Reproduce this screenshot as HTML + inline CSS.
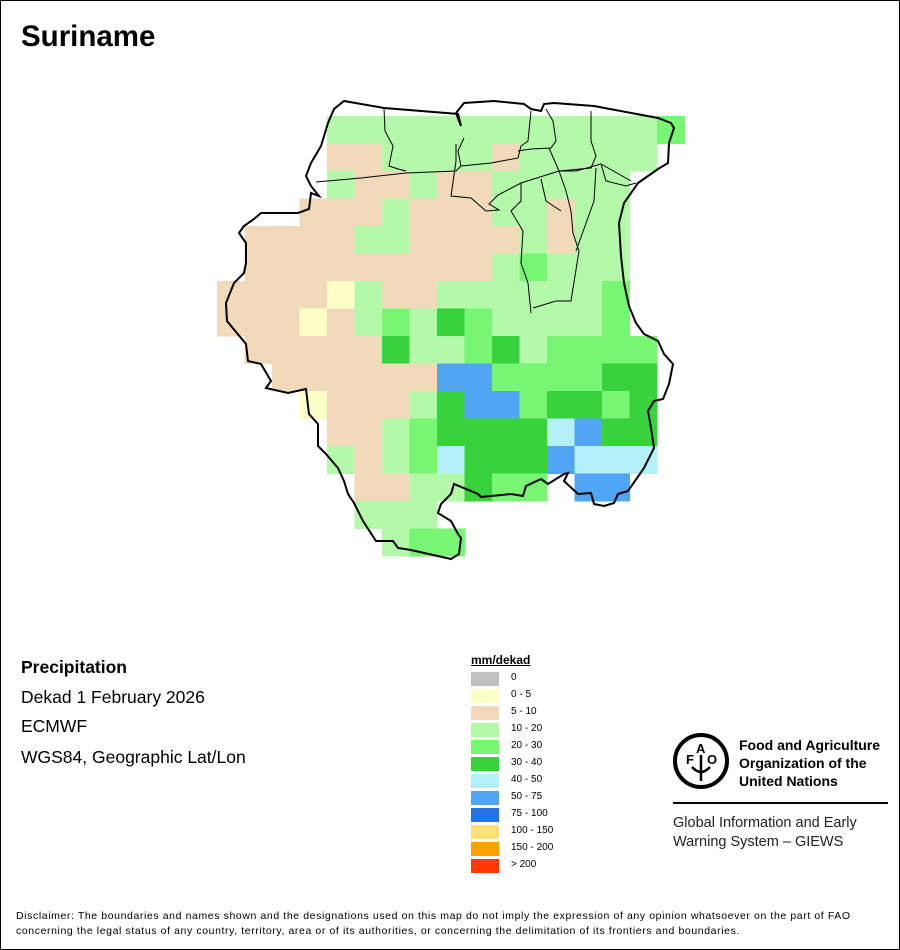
<!DOCTYPE html>
<html><head><meta charset="utf-8"><style>
body{margin:0;background:#fff;font-family:"Liberation Sans",sans-serif}
#page{position:relative;width:898px;height:948px;border:1px solid #000;overflow:hidden}
.t{position:absolute;white-space:nowrap;color:#000}
</style></head><body>
<div id="page">
<div class="t" style="left:20px;top:19px;font-size:29.5px;font-weight:bold">Suriname</div>
<svg id="map" width="898" height="640" style="position:absolute;left:0;top:0"></svg>
<div class="t" style="left:20px;top:656px;font-size:17.5px;font-weight:bold">Precipitation</div>
<div class="t" style="left:20px;top:686px;font-size:17.5px">Dekad 1 February 2026</div>
<div class="t" style="left:20px;top:715px;font-size:17.5px">ECMWF</div>
<div class="t" style="left:20px;top:746px;font-size:17.5px">WGS84, Geographic Lat/Lon</div>
<div class="t" style="left:470px;top:652px;font-size:12px;font-weight:bold;text-decoration:underline">mm/dekad</div>
<div id="legend"></div>
<svg width="60" height="60" style="position:absolute;left:671px;top:730px">
<circle cx="29" cy="30" r="26" fill="none" stroke="#000" stroke-width="4"/>
<text x="14" y="33" font-size="13" font-weight="bold" font-family="Liberation Sans">F</text>
<text x="24" y="22" font-size="13" font-weight="bold" font-family="Liberation Sans">A</text>
<text x="35" y="33" font-size="13" font-weight="bold" font-family="Liberation Sans">O</text>
<path d="M29 24 L29 50 M20 36 Q29 46 38 36" stroke="#000" stroke-width="2.5" fill="none"/>
</svg>
<div class="t" style="left:738px;top:735px;font-size:14px;font-weight:bold;line-height:18px">Food and Agriculture<br>Organization of the<br>United Nations</div>
<div style="position:absolute;left:672px;top:801px;width:215px;height:2px;background:#000"></div>
<div class="t" style="left:672px;top:813px;font-size:14.5px;line-height:19px;color:#222">Global Information and Early<br>Warning System – GIEWS</div>
<div class="t" style="left:15px;top:908px;font-size:10.5px;line-height:15px;letter-spacing:0.6px">Disclaimer: The boundaries and names shown and the designations used on this map do not imply the expression of any opinion whatsoever on the part of FAO<br>concerning the legal status of any country, territory, area or of its authorities, or concerning the delimitation of its frontiers and boundaries.</div>
</div>
<script>
const gridRows = [
"....LLLLLLLLLLLLG",
"....TTLLLLTLLLLL.",
"....LTTLTTLLLLL..",
"...TTTLTTTLLTLL..",
".TTTTLLTTTTLTLL..",
".TTTTTTTTTLGLLL..",
"TTTTYLTTLLLLLLG..",
"TTTYTLGLDGLLLLG..",
".TTTTTDLLGDLGGGG.",
"..TTTTTTBBGGGGDD.",
"...YTTTLDBBGDDGD.",
"....TTLGDDDDCBDD.",
"....LTLGCDDDBCCC.",
".....TTLLDGG.BB..",
".....LLL.........",
"......LGG........"
];
const classCodes = ["Z","Y","T","L","G","D","C","B","E","O","R","X"];
const classLabels = ["0","0 - 5","5 - 10","10 - 20","20 - 30","30 - 40","40 - 50","50 - 75","75 - 100","100 - 150","150 - 200","> 200"];
const classColors = ["#c0c0c0","#ffffc8","#f0dab9","#b4f8aa","#78f573","#37d23c","#b4f0f8","#50a5f5","#2373e6","#ffe178","#ffa000","#ff3700"];
const NS="http://www.w3.org/2000/svg";
const svg=document.getElementById('map');
const x0=216,y0=115,cw=27.5,ch=27.5;
gridRows.forEach((row,r)=>{[...row].forEach((c,ci)=>{
 const k=classCodes.indexOf(c); if(k<0) return;
 const el=document.createElementNS(NS,'rect');
 
 
 el.setAttribute('x',x0+ci*cw);el.setAttribute('y',y0+r*ch);
 el.setAttribute('width',cw+0.5);el.setAttribute('height',ch+0.5);
 el.setAttribute('fill',classColors[k]);svg.appendChild(el);
});});
const outline="M343,100 L383,107 L457,113 L460,125 L455,112 L463,102 L493,100 L523,103 L530,108 L540,110 L543,103 L553,102 L593,105 L657,117 L670,122 L673,127 L668,142 L667,162 L657,168 L637,182 L623,202 L618,222 L620,255 L623,282 L628,305 L635,322 L643,333 L657,340 L663,353 L672,363 L668,383 L662,398 L653,400 L647,410 L650,427 L653,447 L643,467 L627,490 L617,493 L613,502 L603,505 L593,503 L590,492 L577,493 L563,480 L567,472 L563,473 L547,483 L540,478 L525,485 L522,495 L510,493 L480,496 L477,493 L453,483 L450,493 L440,503 L437,512 L450,520 L457,533 L460,537 L458,553 L450,558 L410,549 L397,547 L392,540 L375,540 L362,520 L353,502 L347,493 L343,480 L337,467 L325,453 L317,445 L317,423 L308,413 L305,388 L287,392 L265,387 L270,380 L260,363 L247,360 L245,343 L226,320 L225,302 L233,282 L243,272 L245,262 L245,242 L238,232 L243,225 L253,218 L260,212 L297,212 L308,208 L310,192 L318,195 L310,185 L305,175 L310,162 L320,145 L327,122 L333,108 Z";
const p=document.createElementNS(NS,'path');


p.setAttribute('d',outline);p.setAttribute('fill','none');p.setAttribute('stroke','#000');p.setAttribute('stroke-width','2');svg.appendChild(p);
const inner=["M383,107 L384,130 L392,145 L388,165 L397,168 L405,170",
"M315,181 L360,177 L405,172 L455,170 L460,165 L457,150 L463,137",
"M455,143 L455,160 L450,195 L470,197 L485,210 L498,209 L488,203 L497,194 L520,182 L558,170 L575,170 L600,163 L630,180",
"M460,165 L490,162 L517,157 L520,145 L527,140 L530,110",
"M517,150 L530,148 L550,147 L555,140 L552,120 L545,108",
"M548,147 L558,170 L590,167 L595,155 L590,140 L590,110",
"M520,182 L520,200 L510,210 L522,230 L520,262 L527,282 L530,312",
"M558,170 L565,190 L570,210 L572,232 L578,250 L570,300 L555,300 L532,307",
"M595,167 L593,200 L575,250",
"M540,178 L545,200 L560,210",
"M600,163 L605,180 L625,185 L635,182"];
inner.forEach(d=>{const q=document.createElementNS(NS,'path');


q.setAttribute('d',d);q.setAttribute('fill','none');q.setAttribute('stroke','#000');q.setAttribute('stroke-width','1');svg.appendChild(q);});
const lg=document.getElementById('legend');
classLabels.forEach((l,i)=>{
 const s=document.createElement('div');
 
 
 s.style.cssText=`position:absolute;left:470px;top:${671+i*17}px;width:28px;height:14px;background:${classColors[i]}`;
 lg.appendChild(s);
 const t=document.createElement('div');
 
 
 t.className='t';t.style.cssText=`left:510px;top:${671+i*17}px;font-size:10px`;t.textContent=l;
 lg.appendChild(t);
});
</script>
</body></html>
